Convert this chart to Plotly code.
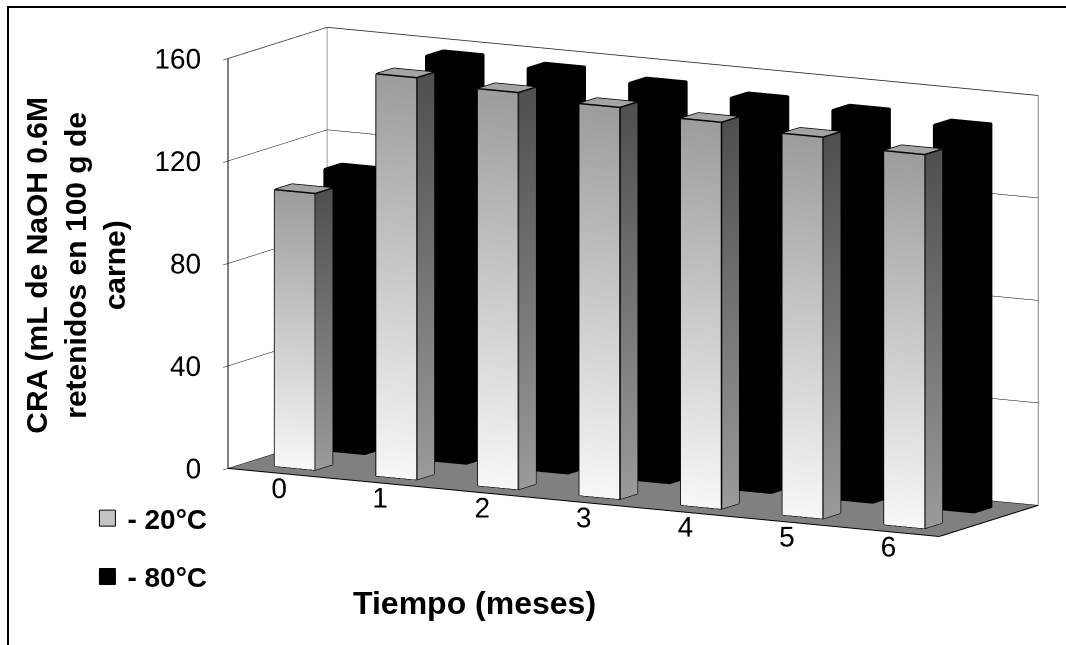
import plotly.graph_objects as go

# CRA values per storage month for the two freezing temperatures
meses = ["0", "1", "2", "3", "4", "5", "6"]
cra_20 = [108, 157, 155, 153, 151, 149, 146]
cra_80 = [110, 158, 157, 155, 153, 152, 150]
series_names = ["- 20°C", "- 80°C"]
z_ticks = [0, 40, 80, 120, 160]

FONT = "Arial, Liberation Sans, sans-serif"
BAR_W = 0.40      # bar width as a fraction of one category slot
BAR_D = 0.35      # bar depth as a fraction of one series row
Z_MAX = 160
LABEL_LIFT = 9    # raises the category-label anchor so the text sits close to the floor edge


def quad(verts, faces_i, faces_j, faces_k, cols, pts, pcols):
    """Append one quadrilateral face (4 corners, 2 triangles)."""
    base = len(verts)
    verts.extend(pts)
    cols.extend(pcols)
    faces_i.extend([base, base])
    faces_j.extend([base + 1, base + 2])
    faces_k.extend([base + 2, base + 3])


def box_mesh(values, row, palette):
    vx, fi, fj, fk, vc = [], [], [], [], []
    ex, ey, ez = [], [], []
    for i, h in enumerate(values):
        x0 = i + 0.5 - BAR_W / 2
        x1 = i + 0.5 + BAR_W / 2
        y0 = row + 0.5 - BAR_D / 2
        y1 = row + 0.5 + BAR_D / 2
        fb, ft = palette["front"]
        sb, st = palette["side"]
        tp = palette["top"]
        quad(vx, fi, fj, fk, vc,
             [(x0, y0, 0), (x1, y0, 0), (x1, y0, h), (x0, y0, h)],
             [fb, fb, ft, ft])
        quad(vx, fi, fj, fk, vc,
             [(x1, y0, 0), (x1, y1, 0), (x1, y1, h), (x1, y0, h)],
             [sb, sb, st, st])
        quad(vx, fi, fj, fk, vc,
             [(x0, y0, 0), (x0, y1, 0), (x0, y1, h), (x0, y0, h)],
             [sb, sb, st, st])
        quad(vx, fi, fj, fk, vc,
             [(x0, y1, 0), (x1, y1, 0), (x1, y1, h), (x0, y1, h)],
             [fb, fb, ft, ft])
        quad(vx, fi, fj, fk, vc,
             [(x0, y0, h), (x1, y0, h), (x1, y1, h), (x0, y1, h)],
             [tp, tp, tp, tp])
        corners = {
            "a": (x0, y0, 0), "b": (x1, y0, 0), "c": (x1, y1, 0), "d": (x0, y1, 0),
            "e": (x0, y0, h), "f": (x1, y0, h), "g": (x1, y1, h), "k": (x0, y1, h),
        }
        for p, q in ["ab", "bc", "ae", "bf", "cg", "ef", "fg", "gk", "ke"]:
            for c in (corners[p], corners[q]):
                ex.append(c[0]); ey.append(c[1]); ez.append(c[2])
            ex.append(None); ey.append(None); ez.append(None)
    xs, ys, zs = zip(*vx)
    mesh = go.Mesh3d(
        x=xs, y=ys, z=zs, i=fi, j=fj, k=fk, vertexcolor=vc,
        flatshading=True,
        lighting=dict(ambient=1.0, diffuse=0.0, specular=0.0, roughness=1.0, fresnel=0.0),
        hoverinfo="skip", showlegend=False,
    )
    edges = go.Scatter3d(
        x=ex, y=ey, z=ez, mode="lines",
        line=dict(color="black", width=3),
        hoverinfo="skip", showlegend=False,
    )
    return mesh, edges


light_palette = {
    "front": ("#f7f7f7", "#9c9c9c"),
    "side": ("#9a9a9a", "#4f4f4f"),
    "top": ("#a4a4a4"),
}
dark_palette = {
    "front": ("#000000", "#000000"),
    "side": ("#000000", "#000000"),
    "top": ("#000000"),
}

fig = go.Figure()

n_cat = len(meses)
n_rows = len(series_names)

# -80 °C series sits in the back row, -20 °C in the front row
mesh80, edge80 = box_mesh(cra_80, 1, dark_palette)
mesh20, edge20 = box_mesh(cra_20, 0, light_palette)
for t in (mesh80, edge80, mesh20, edge20):
    fig.add_trace(t)


def segments(segs):
    xs, ys, zs = [], [], []
    for seg in segs:
        for c in seg:
            xs.append(c[0]); ys.append(c[1]); zs.append(c[2])
        xs.append(None); ys.append(None); zs.append(None)
    return xs, ys, zs


# wall outlines (gray)
gx, gy, gz = segments([
    [(0, n_rows, Z_MAX), (n_cat, n_rows, Z_MAX)],
    [(n_cat, n_rows, Z_MAX), (n_cat, n_rows, 0)],
    [(0, 0, Z_MAX), (0, n_rows, Z_MAX)],
    [(0, n_rows, 0), (0, n_rows, Z_MAX)],
])
fig.add_trace(go.Scatter3d(x=gx, y=gy, z=gz, mode="lines",
                           line=dict(color="#808080", width=2),
                           hoverinfo="skip", showlegend=False))

# value axis, category axis and floor edge (black)
bx, by, bz = segments([
    [(0, 0, 0), (0, 0, Z_MAX)],
    [(0, 0, 0), (n_cat, 0, 0)],
    [(n_cat, 0, 0), (n_cat, n_rows, 0)],
])
fig.add_trace(go.Scatter3d(x=bx, y=by, z=bz, mode="lines",
                           line=dict(color="black", width=2),
                           hoverinfo="skip", showlegend=False))

# value tick labels along the front-left edge
fig.add_trace(go.Scatter3d(x=[0] * len(z_ticks), y=[0] * len(z_ticks), z=z_ticks,
                           mode="text", text=[str(v) for v in z_ticks],
                           textposition="middle left",
                           textfont=dict(family=FONT, size=28, color="black"),
                           hoverinfo="skip", showlegend=False))
# category labels under the front edge
fig.add_trace(go.Scatter3d(x=[i + 0.5 for i in range(n_cat)], y=[0] * n_cat,
                           z=[LABEL_LIFT] * n_cat, mode="text", text=meses,
                           textposition="bottom center",
                           textfont=dict(family=FONT, size=28, color="black"),
                           hoverinfo="skip", showlegend=False))

# legend entries
fig.add_trace(go.Scatter3d(x=[None], y=[None], z=[None], mode="markers",
                           name=series_names[0], legendgroup="a",
                           marker=dict(symbol="square", size=16, color="#c4c4c4",
                                       line=dict(color="black", width=1))))
fig.add_trace(go.Scatter3d(x=[None], y=[None], z=[None], mode="markers",
                           name=series_names[1], legendgroup="b",
                           marker=dict(symbol="square", size=16, color="black",
                                       line=dict(color="black", width=1))))

axis_common = dict(showspikes=False, showline=False, zeroline=False,
                   title=dict(text=""), showticklabels=False)

fig.update_layout(
    width=1066, height=645,
    margin=dict(l=0, r=0, t=0, b=0),
    paper_bgcolor="white",
    font=dict(family=FONT, color="black"),
    showlegend=True,
    legend=dict(x=0.082, y=0.235, xanchor="left", yanchor="top",
                font=dict(family=FONT, size=28, color="black", weight="bold"),
                traceorder="grouped", tracegroupgap=19,
                bgcolor="rgba(0,0,0,0)", itemsizing="trace"),
    scene=dict(
        domain=dict(x=[0.135, 1.0], y=[0.11, 1.0]),
        aspectmode="manual",
        aspectratio=dict(x=2.83, y=0.715, z=1.45),
        camera=dict(eye=dict(x=0.961, y=-1.944, z=0.364),
                    center=dict(x=-0.086, y=-0.047, z=-0.018),
                    up=dict(x=0, y=0, z=1),
                    projection=dict(type="orthographic")),
        xaxis=dict(axis_common, range=[0, n_cat], ticks="", showgrid=False,
                   showbackground=True, backgroundcolor="white"),
        yaxis=dict(axis_common, range=[0, n_rows], ticks="", showgrid=False,
                   showbackground=True, backgroundcolor="white"),
        zaxis=dict(axis_common, range=[0, Z_MAX], tickvals=z_ticks,
                   ticks="outside", ticklen=6, tickcolor="black",
                   showgrid=True, gridcolor="black", gridwidth=1,
                   showbackground=True, backgroundcolor="#808080"),
    ),
    annotations=[
        dict(text="CRA (mL de NaOH 0.6M<br>retenidos en 100 g de<br>carne)",
             x=0.07, y=0.589, xref="paper", yref="paper",
             xanchor="center", yanchor="middle", textangle=-90, showarrow=False,
             font=dict(family=FONT, size=30, color="black", weight="bold")),
        dict(text="Tiempo (meses)", x=0.445, y=0.065, xref="paper", yref="paper",
             xanchor="center", yanchor="middle", showarrow=False,
             font=dict(family=FONT, size=32, color="black", weight="bold")),
    ],
    shapes=[
        dict(type="rect", xref="paper", yref="paper",
             x0=0.0075, x1=1.05, y0=-0.05, y1=0.989,
             line=dict(color="black", width=2), fillcolor="rgba(0,0,0,0)"),
    ],
)

fig.write_html("out.html", config={"displayModeBar": False})
